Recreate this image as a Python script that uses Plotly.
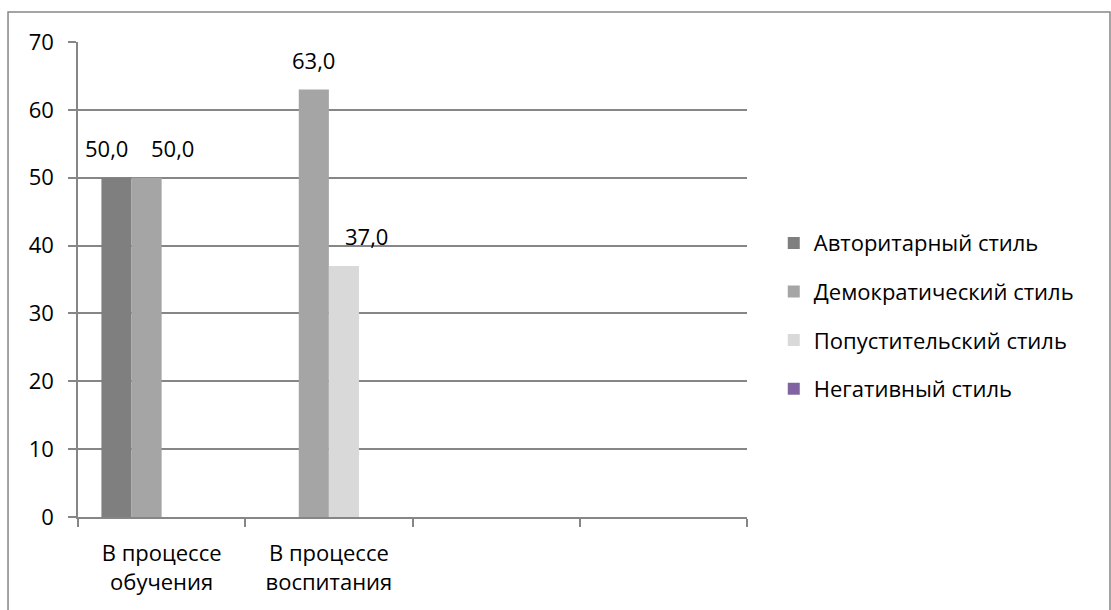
import plotly.graph_objects as go

# Categories along the x axis (the last two slots are empty)
categories = ["В процессе<br>обучения", "В процессе<br>воспитания", " ", "  "]

# Share of each leadership style, %
series_names = ["Авторитарный стиль", "Демократический стиль",
                "Попустительский стиль", "Негативный стиль"]
authoritarian = [50.0, 0, 0, 0]
democratic = [50.0, 63.0, 0, 0]
permissive = [0, 37.0, 0, 0]
negative = [0, 0, 0, 0]

colors = ["#7f7f7f", "#a5a5a5", "#d9d9d9", "#8064a2"]
FONT = "Open Sans"
FS = 22
GRID = "#868686"
BARGAP = 0.28

values = [authoritarian, democratic, permissive, negative]

fig = go.Figure()
for i, (name, vals, col) in enumerate(zip(series_names, values, colors)):
    fig.add_trace(go.Bar(
        name=name, x=categories, y=vals,
        marker=dict(color=col, line=dict(width=0)),
        legendgroup=f"g{i}",
    ))

# Value labels above the non-zero bars; crowded labels are pushed apart
n_series = len(values)
bar_w = (1 - BARGAP) / n_series
nudge = {(0, 0): -10, (1, 0): 26, (2, 1): 23}
for j, vals in enumerate(values):
    for i, v in enumerate(vals):
        if v:
            xc = i - (1 - BARGAP) / 2 + bar_w * (j + 0.5)
            fig.add_annotation(
                x=xc, y=v, xref="x", yref="y",
                text=f"{v:.1f}".replace(".", ","),
                showarrow=False, yanchor="bottom",
                yshift=13, xshift=nudge.get((j, i), 0),
                font=dict(family=FONT, size=FS, color="#000"),
            )

# Outer chart frame
fig.add_shape(type="rect", xref="paper", yref="paper",
              x0=-0.1046, x1=1.5426, y0=-0.25, y1=1.0632,
              line=dict(color=GRID, width=1.5), fillcolor="rgba(0,0,0,0)",
              layer="below")

fig.update_layout(
    width=1111, height=610,
    margin=dict(l=78, r=364, t=42, b=93),
    paper_bgcolor="white", plot_bgcolor="white",
    barmode="group", bargap=BARGAP, bargroupgap=0,
    font=dict(family=FONT, size=FS, color="#000"),
    showlegend=True,
    legend=dict(x=1.040, xanchor="left", y=0.423, yanchor="middle",
                tracegroupgap=17, font=dict(family=FONT, size=FS),
                bgcolor="rgba(0,0,0,0)"),
    xaxis=dict(type="category", tickson="boundaries",
               ticks="outside", ticklen=8, tickcolor=GRID, tickwidth=1.5,
               showline=True, linecolor=GRID, linewidth=1.5,
               showgrid=False, ticklabelstandoff=16,
               range=[-0.5, 3.5]),
    yaxis=dict(range=[0, 70], dtick=10, ticks="outside", ticklen=8,
               tickcolor=GRID, tickwidth=1.5,
               showline=True, linecolor=GRID, linewidth=1.5,
               showgrid=True, gridcolor=GRID, gridwidth=1.5,
               zeroline=False, ticklabelstandoff=10),
)

fig.write_html("out.html")
